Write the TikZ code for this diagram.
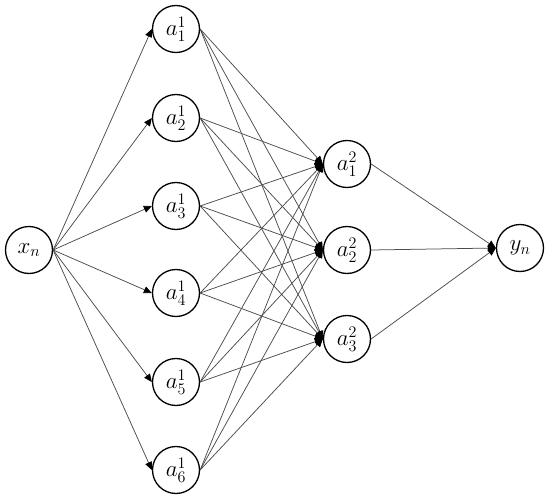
\RequirePackage{fix-cm}
\documentclass[tikz,border=0pt]{standalone}
\usetikzlibrary{arrows.meta}
\begin{document}
\begin{tikzpicture}[x=1pt,y=-1pt,
  neuron/.style={circle,draw=black,line width=1.3pt,minimum size=47pt,inner sep=0pt,font=\fontsize{23}{27}\selectfont},
  conn/.style={draw=black!70,line width=0.75pt,-{Triangle[length=8pt,width=7pt,black]}}]
\useasboundingbox (0,0) rectangle (550,498);
\node[neuron] (x) at (29,250) {$x_n$};
\node[neuron] (h1) at (176,29) {$a_1^1$};
\node[neuron] (h2) at (176,118) {$a_2^1$};
\node[neuron] (h3) at (176,206) {$a_3^1$};
\node[neuron] (h4) at (176,293) {$a_4^1$};
\node[neuron] (h5) at (176,382) {$a_5^1$};
\node[neuron] (h6) at (176,470) {$a_6^1$};
\node[neuron] (g1) at (347,164) {$a_1^2$};
\node[neuron] (g2) at (347,250) {$a_2^2$};
\node[neuron] (g3) at (347,339) {$a_3^2$};
\node[neuron] (y) at (520,248) {$y_n$};
\foreach \i in {1,...,6} {
  \draw[conn] (x.east) -- (h\i.west);
  \foreach \j in {1,2,3} {
    \draw[conn] (h\i.east) -- (g\j.west);
  }
}
\foreach \j in {1,2,3} {
  \draw[conn] (g\j.east) -- (y.west);
}
\end{tikzpicture}
\end{document}
